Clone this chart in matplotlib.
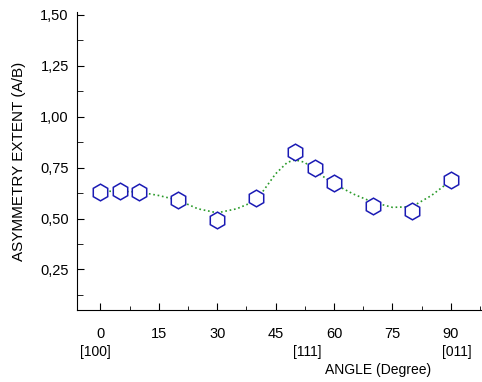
import matplotlib
matplotlib.use("Agg")
import matplotlib.pyplot as plt
from matplotlib.ticker import MultipleLocator, FuncFormatter
from matplotlib.transforms import blended_transform_factory

plt.rcParams['font.family'] = ['Liberation Sans', 'DejaVu Sans']

# measured points
angle = [0, 5, 10, 20, 30, 40, 50, 55, 60, 70, 80, 90]
extent = [0.63, 0.637, 0.63, 0.59, 0.494, 0.60, 0.825, 0.75, 0.673, 0.564, 0.535, 0.69]

# fitted curve
fit_angle = [0, 5, 10, 15, 20, 25, 30, 35, 40, 45, 48, 50, 52.5, 55, 60, 65, 70, 75, 80, 85, 90]
fit_extent = [0.634, 0.634, 0.63, 0.613, 0.59, 0.548, 0.528, 0.548, 0.588, 0.72, 0.776,
              0.788, 0.776, 0.735, 0.67, 0.62, 0.58, 0.555, 0.558, 0.613, 0.686]

directions = ['[100]', '[111]', '[011]']
dir_angle = [-1.3, 53, 91.5]

fig = plt.figure(figsize=(4.82, 3.82), dpi=100)
ax = fig.add_axes([0.16, 0.188, 0.84, 0.781])

ax.plot(fit_angle, fit_extent, linestyle=':', color='#2a9a2a', linewidth=1.2, zorder=1)
ax.plot(angle, extent, linestyle='none', marker='h', markersize=12,
        markerfacecolor='white', markeredgecolor='#1a1ab4', markeredgewidth=1.1, zorder=2)

ax.set_xlim(-6, 98)
ax.set_ylim(0.05, 1.515)

for s in ['top', 'right']:
    ax.spines[s].set_visible(False)

ax.xaxis.set_major_locator(MultipleLocator(15))
ax.xaxis.set_minor_locator(MultipleLocator(7.5))
ax.yaxis.set_major_locator(MultipleLocator(0.25))
ax.yaxis.set_minor_locator(MultipleLocator(0.125))
ax.yaxis.set_major_formatter(FuncFormatter(lambda v, p: f"{v:.2f}".replace('.', ',')))

ax.tick_params(which='both', direction='in', labelsize=10.5)
ax.tick_params(axis='x', which='major', length=5, pad=12)
ax.tick_params(axis='x', which='minor', length=3)
ax.tick_params(axis='y', which='major', length=5, pad=6)
ax.tick_params(axis='y', which='minor', length=4)

ax.set_ylabel('ASYMMETRY EXTENT (A/B)', fontsize=11, labelpad=10)

trans = blended_transform_factory(ax.transData, fig.transFigure)
for lab, a in zip(directions, dir_angle):
    ax.text(a, 1 - 352 / 382, lab, transform=trans, ha='center', va='center',
            fontsize=10, clip_on=False)
fig.text(378 / 482, 1 - 370 / 382, 'ANGLE (Degree)', ha='center', va='center', fontsize=10)

fig.savefig('out.png', dpi=100)
